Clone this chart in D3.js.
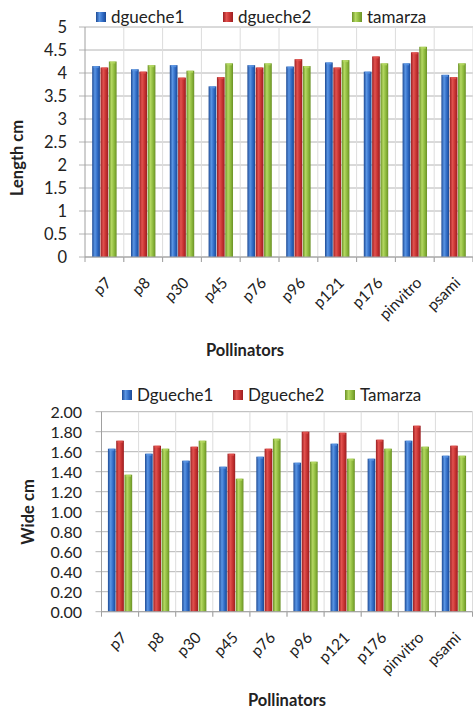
<!DOCTYPE html>
<html><head><meta charset="utf-8">
<script src="https://cdnjs.cloudflare.com/ajax/libs/d3/7.8.5/d3.min.js"></script>
<style>
body{margin:0;background:#fff;}
svg{display:block;font-family:Lato,"Open Sans",sans-serif;}
</style></head><body>
<svg id="chart" width="473" height="709"></svg>
<script>
const categories = ["p7","p8","p30","p45","p76","p96","p121","p176","pinvitro","psami"];
const lengthSeriesNames = ["dgueche1","dgueche2","tamarza"];
const lengthDgueche1 = [4.15,4.08,4.17,3.71,4.17,4.14,4.23,4.03,4.21,3.96];
const lengthDgueche2 = [4.12,4.03,3.90,3.91,4.12,4.30,4.12,4.36,4.45,3.91];
const lengthTamarza  = [4.25,4.17,4.05,4.21,4.21,4.15,4.28,4.21,4.57,4.21];
const lengthTicks = [0,0.5,1,1.5,2,2.5,3,3.5,4,4.5,5];

const wideSeriesNames = ["Dgueche1","Dgueche2","Tamarza"];
const wideDgueche1 = [1.63,1.58,1.51,1.45,1.55,1.49,1.68,1.53,1.71,1.56];
const wideDgueche2 = [1.71,1.66,1.65,1.58,1.63,1.80,1.79,1.72,1.86,1.66];
const wideTamarza  = [1.37,1.63,1.71,1.33,1.73,1.50,1.53,1.63,1.65,1.56];
const wideTicks = [0,0.2,0.4,0.6,0.8,1.0,1.2,1.4,1.6,1.8,2.0];

const svg = d3.select("#chart");
const defs = svg.append("defs");
const palettes = [
  {id:"gBlue",  dark:"#1d4a94", light:"#5a95e4", mid:"#2d68c2"},
  {id:"gRed",   dark:"#9a1f22", light:"#e2524f", mid:"#c4302f"},
  {id:"gGreen", dark:"#6a9126", light:"#b4d862", mid:"#8cb83b"}
];
palettes.forEach(p=>{
  const g = defs.append("linearGradient").attr("id",p.id).attr("x1","0").attr("x2","1").attr("y1","0").attr("y2","0");
  g.append("stop").attr("offset","0%").attr("stop-color",p.dark);
  g.append("stop").attr("offset","35%").attr("stop-color",p.light);
  g.append("stop").attr("offset","70%").attr("stop-color",p.mid);
  g.append("stop").attr("offset","100%").attr("stop-color",p.dark);
});

function drawChart(o){
  const g = svg.append("g");
  const x = d3.scaleBand().domain(categories).range([o.left,o.right]).paddingInner(o.padIn).paddingOuter(o.padIn/2);
  const xs = d3.scaleBand().domain([0,1,2]).range([0,x.bandwidth()]);
  const y = d3.scaleLinear().domain([0,o.max]).range([o.bottom,o.top]);
  const step = x.step();

  // horizontal grid
  g.selectAll(".hg").data(o.ticks).join("line")
    .attr("x1",o.left-6).attr("x2",o.right).attr("y1",d=>y(d)).attr("y2",d=>y(d))
    .attr("stroke","#b4b4b4").attr("stroke-width",1);
  // vertical faint grid at category boundaries
  const bounds = categories.map((c,i)=>o.left+step*(i+1));
  g.selectAll(".vg").data(bounds).join("line")
    .attr("x1",d=>d).attr("x2",d=>d).attr("y1",o.top).attr("y2",o.bottom+5)
    .attr("stroke","#dcdcdc").attr("stroke-width",1);
  g.selectAll(".vt").data(bounds).join("line")
    .attr("x1",d=>d).attr("x2",d=>d).attr("y1",o.bottom).attr("y2",o.bottom+5)
    .attr("stroke","#a0a0a0").attr("stroke-width",1);
  // y axis line
  g.append("line").attr("x1",o.left).attr("x2",o.left).attr("y1",o.top).attr("y2",o.bottom+5)
    .attr("stroke","#a0a0a0");
  // bars
  o.series.forEach((vals,si)=>{
    g.selectAll(".b"+si).data(vals).join("rect")
      .attr("x",(d,i)=>x(categories[i])+xs(si)+0.3)
      .attr("width",xs.bandwidth()-0.6)
      .attr("y",d=>y(d)).attr("height",d=>o.bottom-y(d))
      .attr("fill","url(#"+palettes[si].id+")");
    g.selectAll(".c"+si).data(vals).join("rect")
      .attr("x",(d,i)=>x(categories[i])+xs(si)+1.5)
      .attr("width",xs.bandwidth()-3)
      .attr("y",d=>y(d)).attr("height",2)
      .attr("fill",palettes[si].light).attr("opacity",0.8);
  });
  // x axis line
  g.append("line").attr("x1",o.left).attr("x2",o.right).attr("y1",o.bottom).attr("y2",o.bottom)
    .attr("stroke","#a0a0a0");
  // y tick labels
  const yAxis = d3.axisLeft(y).tickValues(o.ticks).tickFormat(o.fmt).tickSize(0).tickPadding(0);
  const ya = g.append("g").attr("transform",`translate(${o.labelRight},0)`).call(yAxis);
  ya.select(".domain").remove();
  ya.selectAll("text").attr("font-size",o.tickFont).attr("fill","#222").attr("font-family","Lato, sans-serif").attr("dy","0.36em");
  // x labels
  g.selectAll(".xl").data(categories).join("text")
    .attr("transform",d=>`translate(${x(d)+x.bandwidth()/2+o.lx},${o.bottom+o.ly}) rotate(-45)`)
    .attr("text-anchor","end").attr("dy","0.35em")
    .attr("font-size",15.5).attr("fill","#222").text(d=>d);
  // axis titles
  g.append("text").attr("x",o.xtX).attr("y",o.xtY).attr("text-anchor","middle")
    .attr("font-size",16.5).attr("font-weight","bold").attr("fill","#222").text("Pollinators");
  g.append("text").attr("transform",`translate(${o.ytX},${o.ytY}) rotate(-90)`).attr("text-anchor","middle")
    .attr("dy","0.35em").attr("font-size",16.5).attr("font-weight","bold").attr("fill","#222").text(o.yTitle);
  // legend
  o.names.forEach((n,i)=>{
    const lx = o.legendX[i];
    g.append("rect").attr("x",lx).attr("y",o.legendY-5).attr("width",10).attr("height",10)
      .attr("fill","url(#"+palettes[i].id+")");
    g.append("text").attr("x",lx+15).attr("y",o.legendY).attr("dy","0.36em")
      .attr("font-size",o.legendFont).attr("fill","#222").text(n);
  });
}

drawChart({
  left:85, right:473, top:27, bottom:257, max:5, padIn:0.355,
  ticks:lengthTicks, fmt:d3.format(""), labelRight:67, tickFont:16.5,
  series:[lengthDgueche1,lengthDgueche2,lengthTamarza], names:lengthSeriesNames,
  legendX:[96,223,352], legendY:17, legendFont:17,
  lx:4, ly:23, xtX:245, xtY:356, ytX:17, ytY:158, yTitle:"Length cm"
});
drawChart({
  left:101.5, right:472.5, top:411.7, bottom:611.7, max:2, padIn:0.33,
  ticks:wideTicks, fmt:d3.format(".2f"), labelRight:82, tickFont:16,
  series:[wideDgueche1,wideDgueche2,wideTamarza], names:wideSeriesNames,
  legendX:[122,233,345], legendY:395, legendFont:17,
  lx:4, ly:23, xtX:287, xtY:706, ytX:28, ytY:512, yTitle:"Wide cm"
});
</script>
</body></html>
